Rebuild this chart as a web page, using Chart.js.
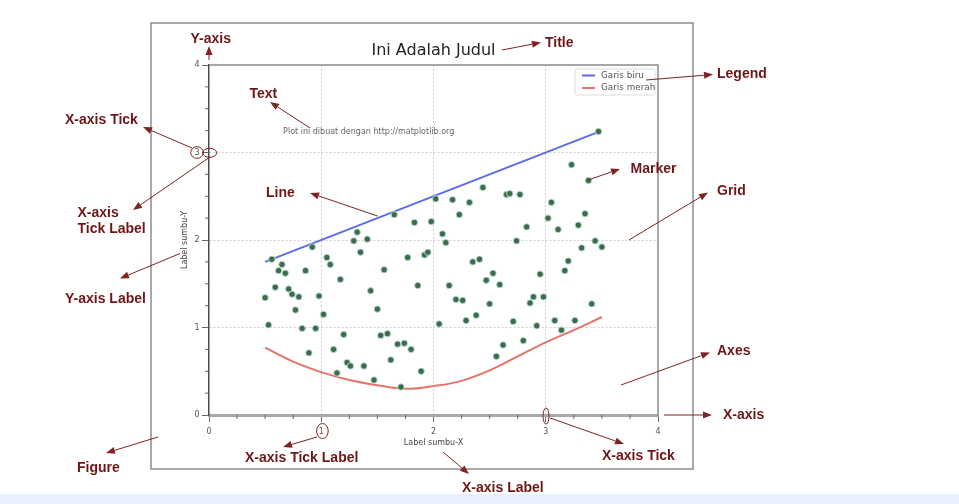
<!DOCTYPE html>
<html>
<head>
<meta charset="utf-8">
<script src="https://cdn.jsdelivr.net/npm/chart.js@4"></script>
<style>
  html, body { margin: 0; padding: 0; background: #fff; }
</style>
</head>
<body>
<canvas id="myChart" width="959" height="504"></canvas>
<script>
// values
const scatterX = [
  0.50, 0.53, 0.56, 0.59, 0.62, 0.65, 0.68, 0.71, 0.74, 0.77,
  0.80, 0.83, 0.86, 0.89, 0.92, 0.95, 0.98, 1.02, 1.05, 1.08,
  1.11, 1.14, 1.17, 1.20, 1.23, 1.26, 1.29, 1.32, 1.35, 1.38,
  1.41, 1.44, 1.47, 1.50, 1.53, 1.56, 1.59, 1.62, 1.65, 1.68,
  1.71, 1.74, 1.77, 1.80, 1.83, 1.86, 1.89, 1.92, 1.95, 1.98,
  2.02, 2.05, 2.08, 2.11, 2.14, 2.17, 2.20, 2.23, 2.26, 2.29,
  2.32, 2.35, 2.38, 2.41, 2.44, 2.47, 2.50, 2.53, 2.56, 2.59,
  2.62, 2.65, 2.68, 2.71, 2.74, 2.77, 2.80, 2.83, 2.86, 2.89,
  2.92, 2.95, 2.98, 3.02, 3.05, 3.08, 3.11, 3.14, 3.17, 3.20,
  3.23, 3.26, 3.29, 3.32, 3.35, 3.38, 3.41, 3.44, 3.47, 3.50
];
const scatterY = [
  1.34, 1.03, 1.78, 1.46, 1.65, 1.72, 1.62, 1.44, 1.38, 1.20,
  1.35, 0.99, 1.65, 0.71, 1.92, 0.99, 1.36, 1.15, 1.80, 1.72,
  0.75, 0.48, 1.55, 0.92, 0.60, 0.56, 1.99, 2.09, 1.86, 0.56,
  2.01, 1.42, 0.40, 1.21, 0.91, 1.66, 0.93, 0.63, 2.29, 0.81,
  0.32, 0.82, 1.80, 0.75, 2.20, 1.48, 0.50, 1.83, 1.86, 2.21,
  2.47, 1.04, 2.07, 1.97, 1.48, 2.46, 1.32, 2.29, 1.31, 1.08,
  2.43, 1.75, 1.14, 1.78, 2.60, 1.54, 1.27, 1.62, 0.67, 1.49,
  0.80, 2.52, 2.53, 1.07, 1.99, 2.52, 0.85, 2.15, 1.28, 1.35,
  1.02, 1.61, 1.35, 2.25, 2.43, 1.08, 2.12, 0.97, 1.65, 1.76,
  2.86, 1.08, 2.17, 1.91, 2.30, 2.68, 1.27, 1.99, 3.24, 1.92
];
const blueX = [0.5, 3.5];
const blueY = [1.75, 3.25];
const redX = [0.5, 0.75, 1.0, 1.25, 1.5, 1.75, 2.0, 2.25, 2.5, 2.75, 3.0, 3.25, 3.5];
const redY = [0.77, 0.61, 0.49, 0.40, 0.34, 0.30, 0.33, 0.39, 0.51, 0.67, 0.83, 0.97, 1.12];
const tickValues = [0, 1, 2, 3, 4];

const toPoints = (xs, ys) => xs.map((x, i) => ({ x: x, y: ys[i] }));

// the red labels + arrows around the figure
const notes = [
  { text: 'Y-axis', x: 190.5, y: 42.5, from: [209, 60], to: [209, 46] },
  { text: 'Title', x: 545, y: 46.5, from: [502, 50], to: [541, 42.5] },
  { text: 'Legend', x: 717, y: 78, from: [646, 80], to: [713, 74.5] },
  { text: 'Text', x: 249.5, y: 98, from: [310, 128], to: [270, 102] },
  { text: 'X-axis Tick', x: 65, y: 123.5, from: [192, 148], to: [143, 127] },
  { text: 'X-axis', x: 77.5, y: 216.5, from: [210, 157], to: [133, 210] },
  { text: 'Tick Label', x: 77.5, y: 233 },
  { text: 'Line', x: 266, y: 196.5, from: [377.5, 216], to: [310, 193] },
  { text: 'Marker', x: 630.5, y: 172.5, from: [588, 180], to: [620, 169] },
  { text: 'Grid', x: 717, y: 195, from: [629, 240], to: [708, 192.5] },
  { text: 'Y-axis Label', x: 65, y: 303, from: [180, 253.5], to: [120, 278.5] },
  { text: 'Axes', x: 717, y: 354.5, from: [621, 385], to: [710, 352.5] },
  { text: 'X-axis', x: 723, y: 418.5, from: [664, 415], to: [712, 415] },
  { text: 'Figure', x: 77, y: 472, from: [158, 437], to: [106, 453] },
  { text: 'X-axis Tick Label', x: 245, y: 462, from: [317, 437], to: [283, 447] },
  { text: 'X-axis Tick', x: 602, y: 460, from: [550, 418], to: [624, 444] },
  { text: 'X-axis Label', x: 462, y: 492, from: [443, 452], to: [469, 474] }
];
const rings = [
  [197, 152.5, 6.3, 5.8], [209.7, 152.8, 7, 4.5], [322.4, 431, 5.8, 7.5], [546, 416, 3, 8]
];

function arrow(ctx, x1, y1, x2, y2) {
  const a = Math.atan2(y2 - y1, x2 - x1);
  const len = 9, w = 3.5;
  const bx = x2 - len * Math.cos(a), by = y2 - len * Math.sin(a);
  ctx.beginPath();
  ctx.moveTo(x1, y1);
  ctx.lineTo(bx, by);
  ctx.stroke();
  ctx.beginPath();
  ctx.moveTo(x2, y2);
  ctx.lineTo(bx + w * Math.sin(a), by - w * Math.cos(a));
  ctx.lineTo(bx - w * Math.sin(a), by + w * Math.cos(a));
  ctx.closePath();
  ctx.fill();
}

const anatomyPlugin = {
  id: 'anatomy',
  beforeDraw(chart) {
    const ctx = chart.ctx;
    ctx.save();
    ctx.fillStyle = '#fff';
    ctx.fillRect(0, 0, chart.width, chart.height);
    ctx.fillStyle = '#e8f0fd';
    ctx.fillRect(0, 494, chart.width, chart.height - 494);
    ctx.strokeStyle = '#8c8c8c';
    ctx.lineWidth = 1.5;
    ctx.strokeRect(151, 23, 542, 446);
    ctx.restore();
  },
  afterDraw(chart) {
    const ctx = chart.ctx;
    const area = chart.chartArea;
    const xs = chart.scales.x, ys = chart.scales.y;
    ctx.save();

    // top + right spines
    ctx.strokeStyle = '#8a8a8a';
    ctx.lineWidth = 1.5;
    ctx.beginPath();
    ctx.moveTo(area.left, area.top);
    ctx.lineTo(area.right, area.top);
    ctx.lineTo(area.right, area.bottom);
    ctx.stroke();

    // minor ticks
    ctx.strokeStyle = '#666';
    ctx.lineWidth = 1;
    for (let v = 0.25; v < 4; v += 0.25) {
      if (v % 1 === 0) continue;
      const px = xs.getPixelForValue(v), py = ys.getPixelForValue(v);
      ctx.beginPath();
      ctx.moveTo(px, area.bottom); ctx.lineTo(px, area.bottom + 4);
      ctx.moveTo(area.left, py); ctx.lineTo(area.left - 4, py);
      ctx.stroke();
    }

    // legend inside the axes
    const lx = area.right - 83, ly = area.top + 4;
    ctx.fillStyle = 'rgba(255,255,255,0.9)';
    ctx.strokeStyle = '#dcdcdc';
    ctx.lineWidth = 1;
    ctx.beginPath();
    ctx.roundRect(lx, ly, 80, 26, 2);
    ctx.fill();
    ctx.stroke();
    ctx.font = '8.8px "DejaVu Sans"';
    ctx.textBaseline = 'middle';
    ctx.textAlign = 'left';
    [1, 2].forEach((di, k) => {
      const ds = chart.data.datasets[di];
      const yy = ly + 6.5 + k * 12.5;
      ctx.strokeStyle = ds.borderColor;
      ctx.lineWidth = 2;
      ctx.beginPath();
      ctx.moveTo(lx + 7, yy); ctx.lineTo(lx + 20, yy);
      ctx.stroke();
      ctx.fillStyle = '#555';
      ctx.fillText(ds.label, lx + 26, yy);
    });

    // text inside the axes
    ctx.font = '8px "DejaVu Sans"';
    ctx.fillStyle = '#666';
    ctx.fillText('Plot ini dibuat dengan http://matplotlib.org',
      xs.getPixelForValue(0.66), ys.getPixelForValue(3.23));

    // annotations
    ctx.strokeStyle = '#7d2424';
    ctx.fillStyle = '#7d2424';
    ctx.lineWidth = 1;
    notes.forEach(n => { if (n.from) arrow(ctx, n.from[0], n.from[1], n.to[0], n.to[1]); });
    rings.forEach(r => {
      ctx.beginPath();
      ctx.ellipse(r[0], r[1], r[2], r[3], 0, 0, Math.PI * 2);
      ctx.stroke();
    });
    ctx.font = 'bold 14px "Liberation Sans", Arial, sans-serif';
    ctx.fillStyle = '#6e1616';
    ctx.textBaseline = 'alphabetic';
    notes.forEach(n => ctx.fillText(n.text, n.x, n.y));
    ctx.restore();
  }
};

const tickFont = { family: 'DejaVu Sans', size: 8 };
const gridColor = c => (c.tick && (c.tick.value === 0 || c.tick.value === 4)) ? 'rgba(0,0,0,0)' : '#cfcfcf';

new Chart(document.getElementById('myChart'), {
  type: 'scatter',
  data: {
    datasets: [
      {
        label: 'Titik',
        data: toPoints(scatterX, scatterY),
        backgroundColor: '#3b6e46',
        borderColor: 'rgba(195,220,228,0.9)',
        borderWidth: 1,
        pointRadius: 3.2
      },
      {
        label: 'Garis biru',
        data: toPoints(blueX, blueY),
        showLine: true,
        borderColor: '#5b6cf0',
        borderWidth: 2,
        pointRadius: 0
      },
      {
        label: 'Garis merah',
        data: toPoints(redX, redY),
        showLine: true,
        tension: 0.4,
        borderColor: '#e4736a',
        borderWidth: 2,
        pointRadius: 0
      }
    ]
  },
  options: {
    responsive: false,
    animation: false,
    layout: { padding: { left: 170, right: 301, top: 0, bottom: 49 } },
    plugins: {
      legend: { display: false },
      tooltip: { enabled: false },
      title: {
        display: true,
        text: 'Ini Adalah Judul',
        fullSize: false,
        color: '#222',
        font: { family: 'DejaVu Sans', size: 16, weight: 'normal' },
        padding: { top: 41.4, bottom: 4.4 }
      }
    },
    scales: {
      x: {
        type: 'linear', min: 0, max: 4,
        afterFit: s => { s.height = 40; },
        afterBuildTicks: s => { s.ticks = tickValues.map(v => ({ value: v })); },
        ticks: { padding: 5, color: '#555', font: tickFont },
        grid: { color: gridColor, tickColor: '#666', tickLength: 7, lineWidth: 1 },
        border: { color: '#a9a9a9', width: 3, dash: [2, 2] },
        title: {
          display: true, text: 'Label sumbu-X', color: '#444', font: tickFont,
          padding: { top: 0, bottom: 7.2 }
        }
      },
      y: {
        type: 'linear', min: 0, max: 4,
        afterFit: s => { s.width = 39; },
        afterBuildTicks: s => { s.ticks = tickValues.map(v => ({ value: v })); },
        ticks: { padding: 2.5, color: '#555', font: tickFont },
        grid: { color: gridColor, tickColor: '#666', tickLength: 7, lineWidth: 1 },
        border: { color: '#4a4a4a', width: 1.5, dash: [2, 2] },
        title: {
          display: true, text: 'Label sumbu-Y', color: '#444', font: tickFont,
          padding: { top: 10.2, bottom: 0 }
        }
      }
    }
  },
  plugins: [anatomyPlugin]
});
</script>
</body>
</html>
